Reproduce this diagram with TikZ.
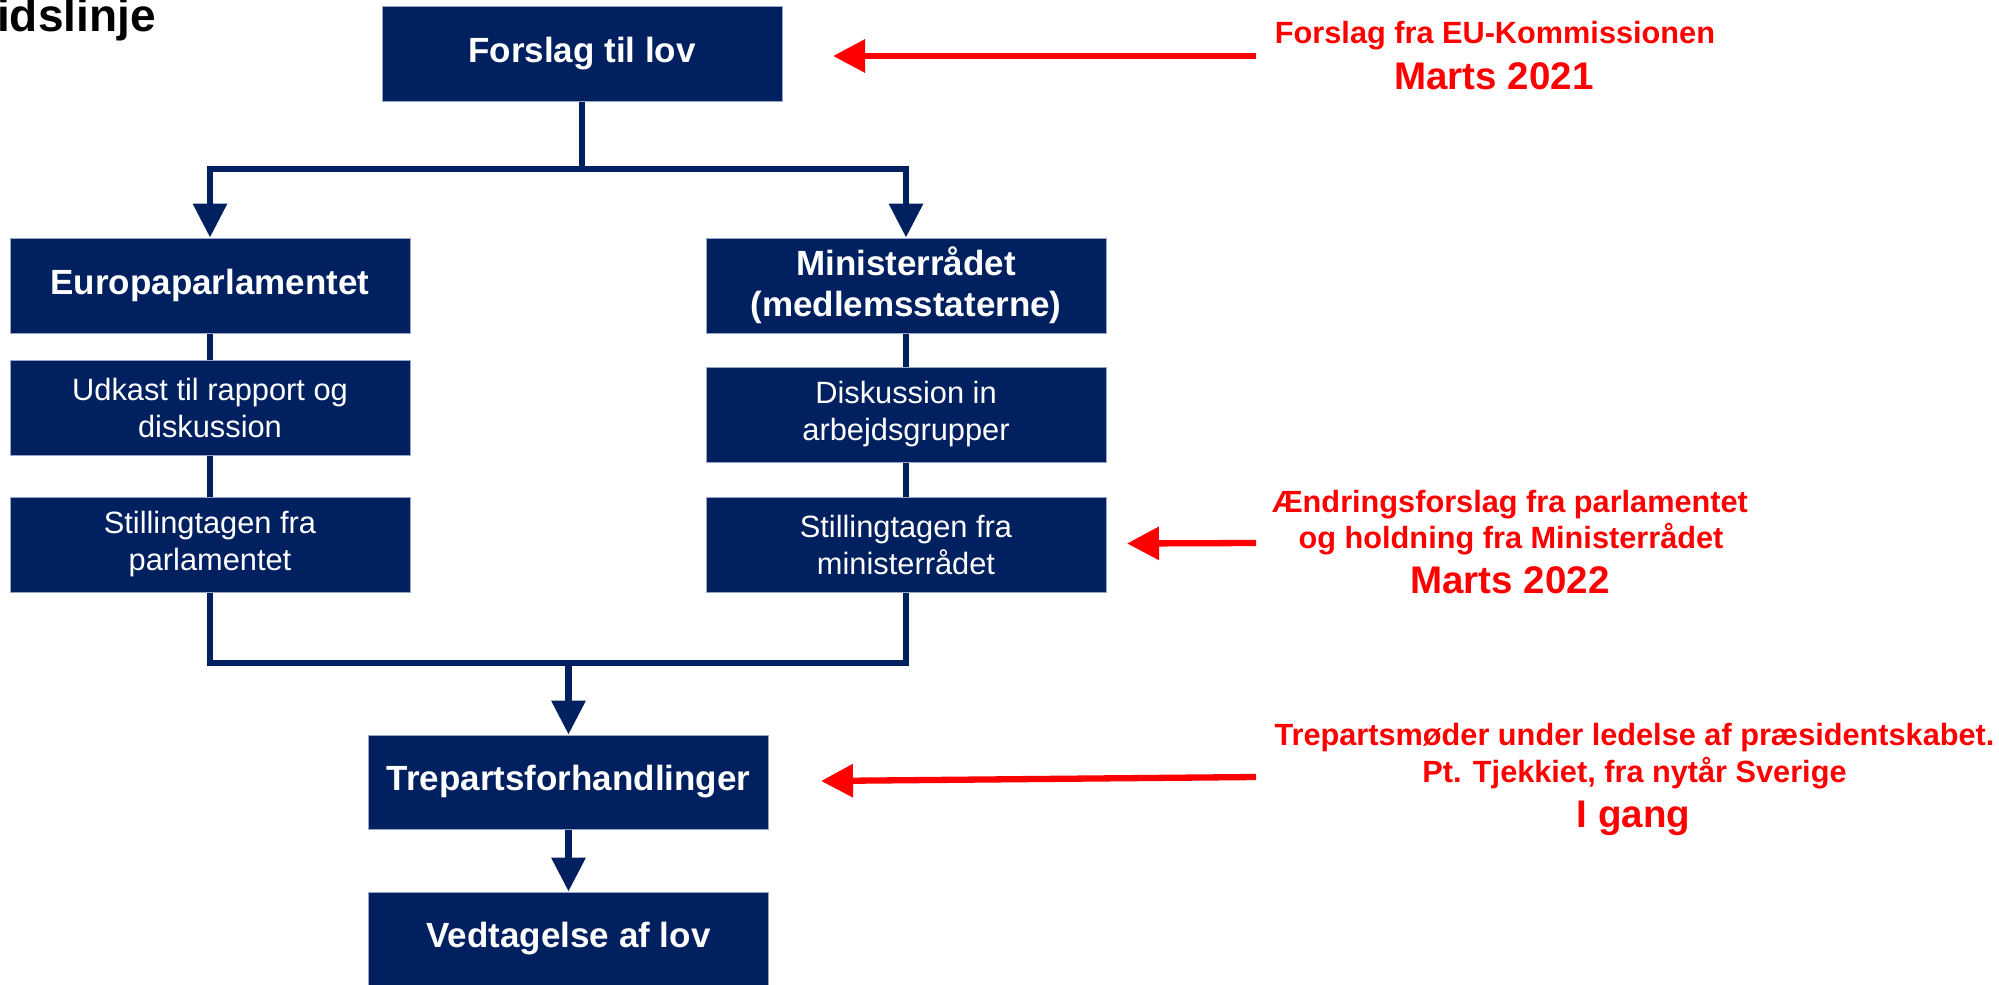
\documentclass[tikz,border=0pt]{standalone}
\usepackage{fontspec}
\setmainfont{Liberation Sans}
\usetikzlibrary{arrows.meta}
\definecolor{navyc}{RGB}{0,32,96}
\definecolor{edgec}{RGB}{150,165,200}
\definecolor{redc}{RGB}{255,0,0}
\tikzset{
  box/.style={fill=navyc, draw=edgec, line width=0.5pt, text=white, minimum width=200pt, minimum height=47.5pt, inner sep=0pt, align=center},
  mainbox/.style={box, font={\fontsize{17.5}{20.5}\selectfont\bfseries}},
  subbox/.style={box, font={\fontsize{15.4}{18.5}\selectfont}},
  navyline/.style={draw=navyc, line width=3.35pt},
  navyarrow/.style={navyline, -{Triangle[width=16.5pt,length=17pt]}},
  redarrow/.style={draw=redc, line width=3.15pt, -{Triangle[width=16pt,length=16pt]}},
  redtxt/.style={text=redc, inner sep=0pt, anchor=base, font={\fontsize{15.35}{18}\selectfont\bfseries}},
  redbig/.style={text=redc, inner sep=0pt, anchor=base, font={\fontsize{19.25}{22}\selectfont\bfseries}},
}
\begin{document}
\begin{tikzpicture}[x=0.5pt,y=-0.5pt]
\useasboundingbox (0,0) rectangle (1999,985);
% title (cut off at left edge)
\node[anchor=base east, inner sep=0pt, font={\fontsize{23}{26}\selectfont\bfseries}] (title) at (156,32) {Tidslinje};
% boxes
\node[mainbox] (forslag) at (582,53.5) {Forslag til lov};
\node[mainbox] (europa) at (210,285.5) {Europaparlamentet};
\node[subbox] (udkast) at (210,407.5) {Udkast til rapport og\\diskussion};
\node[subbox] (stillP) at (210,544.5) {Stillingtagen fra\\parlamentet};
\node[mainbox] (minister) at (906,285.5) {Ministerrådet\\(medlemsstaterne)};
\node[subbox] (disk) at (906,414.5) {Diskussion in\\arbejdsgrupper};
\node[subbox] (stillM) at (906,544.5) {Stillingtagen fra\\ministerrådet};
\node[mainbox, minimum height=47pt] (trep) at (568.5,782) {Trepartsforhandlinger};
\node[mainbox, minimum height=47pt] (vedt) at (568.5,939) {Vedtagelse af lov};
% junctions
\coordinate (jt) at (582,169);
\coordinate (jb) at (568.5,663);
% navy connectors
\draw[navyline] (forslag.south) -- (jt);
\draw[navyarrow] (jt) -| (europa.north);
\draw[navyarrow] (jt) -| (minister.north);
\draw[navyline] (europa.south) -- (udkast.north);
\draw[navyline] (udkast.south) -- (stillP.north);
\draw[navyline] (minister.south) -- (disk.north);
\draw[navyline] (disk.south) -- (stillM.north);
\draw[navyline] (stillP.south) |- (jb) -| (stillM.south);
\draw[navyarrow] (jb) -- (trep.north);
\draw[navyarrow] (trep.south) -- (vedt.north);
% red arrows
\coordinate (r1s) at (1256,56);
\coordinate (r1e) at (833,56);
\coordinate (r2s) at (1256,543);
\coordinate (r2e) at (1127,543.5);
\coordinate (r3s) at (1256,777);
\coordinate (r3e) at (821,781);
\draw[redarrow] (r1s) -- (r1e);
\draw[redarrow] (r2s) -- (r2e);
\draw[redarrow] (r3s) -- (r3e);
% red texts
\node[redtxt] (t1a) at (1495,43) {Forslag fra EU-Kommissionen};
\node[redbig] (t1b) at (1494,89) {Marts 2021};
\node[redtxt] (t2a) at (1510,512) {Ændringsforslag fra parlamentet};
\node[redtxt] (t2b) at (1511,548) {og holdning fra Ministerrådet};
\node[redbig] (t2c) at (1510,593) {Marts 2022};
\node[redtxt] (t3a) at (1634.5,745) {Trepartsmøder under ledelse af præsidentskabet.};
\node[redtxt] (t3b) at (1634.5,782) {Pt. Tjekkiet, fra nytår Sverige};
\node[redbig] (t3c) at (1633.5,827) {I gang};
\end{tikzpicture}
\end{document}
